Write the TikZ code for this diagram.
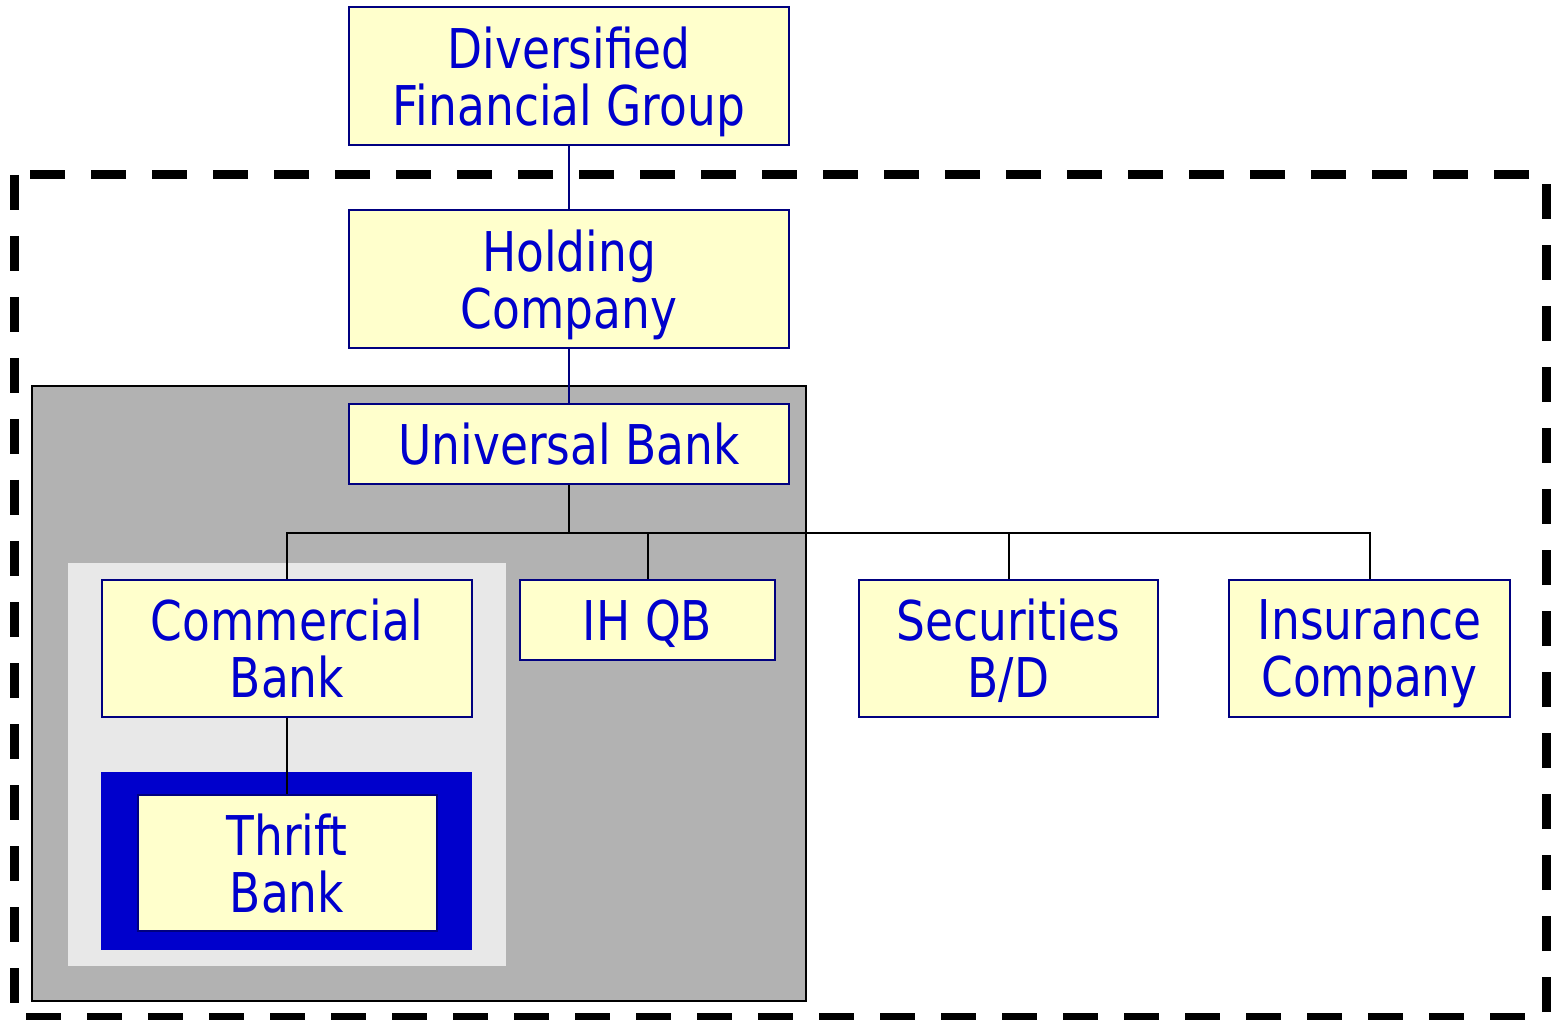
\documentclass[tikz,border=0pt]{standalone}
\usepackage{fontspec}
\setmainfont{DejaVu Sans}[FakeStretch=0.83]
\usepackage{tikz}
\definecolor{boxfill}{HTML}{FFFFCC}
\definecolor{boxtext}{HTML}{0000CC}
\definecolor{boxline}{HTML}{000080}
\definecolor{bankgray}{HTML}{B2B2B2}
\definecolor{panelgray}{HTML}{E8E8E8}
\tikzset{orgbox/.style={draw=boxline, line width=1pt, fill=boxfill, text=boxtext,
  align=center, inner sep=0pt, text depth=0pt, font=\fontsize{27.4}{28.5}\selectfont}}

\begin{document}
\begin{tikzpicture}[x=0.5pt,y=-0.5pt]
            \useasboundingbox (0,0) rectangle (1556,1020);
            \fill[white] (0,0) rectangle (1556,1020);
            % outer dashed frame and shaded panels
            \draw[line width=4.5pt, dash pattern=on 17.5pt off 13pt] (14,175) rectangle (1546,1017);
            \draw[fill=bankgray, line width=1pt] (32,386) rectangle (806,1001);
            \fill[panelgray] (68,563) rectangle (506,966);
            \fill[boxtext] (101,772) rectangle (472,950);
            % boxes
            \node[orgbox, minimum width=220pt, minimum height=69pt] (dfg) at (569,76) {Diversified\\Financial Group};
            \node[orgbox, minimum width=220pt, minimum height=69pt] (hold) at (569,279) {Holding\\Company};
            \node[orgbox, minimum width=220pt, minimum height=40pt] (ubank) at (569,444) {Universal Bank};
            \node[orgbox, minimum width=185pt, minimum height=68.5pt] (cbank) at (287,648.5) {Commercial\\Bank};
            \node[orgbox, minimum width=127.5pt, minimum height=40pt] (ihqb) at (647.5,620) {IH QB};
            \node[orgbox, minimum width=149.5pt, minimum height=68.5pt] (secbd) at (1008.5,648.5) {Securities\\B/D};
            \node[orgbox, minimum width=140.5pt, minimum height=68.5pt] (insco) at (1369.5,648.5) {Insurance\\Company};
            \node[orgbox, minimum width=149.5pt, minimum height=68pt] (thrift) at (287,863) {Thrift\\Bank};
            % connectors
            \draw[boxline, line width=1pt] (dfg) -- (hold);
            \draw[boxline, line width=1pt] (hold) -- (ubank);
            \draw[line width=1pt] (ubank.south) -- ++(0,48) coordinate (bus);
            \draw[line width=1pt] (cbank.north) |- (bus) -| (insco.north);
            \draw[line width=1pt] (ihqb.north) -- (ihqb.north |- bus);
            \draw[line width=1pt] (secbd.north) -- (secbd.north |- bus);
            \draw[line width=1pt] (cbank.south) -- (cbank.south |- thrift.north);
\end{tikzpicture}
\end{document}
